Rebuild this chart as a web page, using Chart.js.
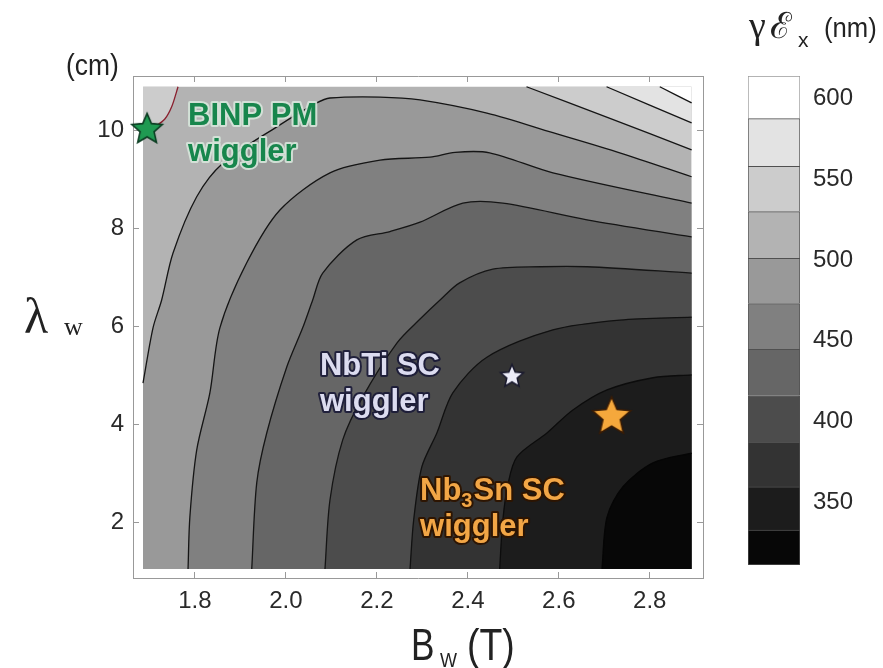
<!DOCTYPE html>
<html>
<head>
<meta charset="utf-8">
<title>Wiggler emittance map</title>
<script src="https://cdn.jsdelivr.net/npm/chart.js@4.4.1/dist/chart.umd.min.js"></script>
<style>
  html, body { margin: 0; padding: 0; background: #fff; }
  #wrap { position: relative; width: 883px; height: 668px; overflow: hidden; }
  #plot { position: absolute; left: 0; top: 0; }
  #bar { position: absolute; left: 700px; top: 0; }
</style>
</head>
<body>
<div id="wrap">
  <canvas id="plot" width="883" height="668"></canvas>
  <canvas id="bar" width="183" height="668"></canvas>
</div>
<script>
// axis ranges (frame) and the data region inside it
const xAxisRange = [1.664, 2.917];
const yAxisRange = [0.855, 11.12];
const plotX = [1.686, 2.892];
const plotY = [1.04, 10.9];
const xTicks = [1.8, 2.0, 2.2, 2.4, 2.6, 2.8];
const yTicks = [2, 4, 6, 8, 10];

// colour bar: band edges in nm and labels
const levelEdges = [311, 332.7, 359.4, 387, 416, 444.6, 473, 501, 530, 558, 587.6, 614];
const cbTicks = [350, 400, 450, 500, 550, 600];
const bandColors = ['#070707', '#1c1c1c', '#333333', '#4c4c4c', '#666666', '#808080',
                    '#999999', '#b3b3b3', '#cccccc', '#e3e3e3', '#ffffff'];

// contour lines, [B_w (T), lambda_w (cm)]
const contourR = [[1.686, 9.93], [1.712, 10.08], [1.734, 10.24], [1.749, 10.49], [1.763, 10.9]];
const contourTopA = [[2.529, 10.9], [2.711, 10.26], [2.892, 9.61]];
const contourTopB = [[2.705, 10.9], [2.892, 10.16]];
const contourTopC = [[2.822, 10.9], [2.892, 10.57]];
const contourL1 = [[1.686, 4.84], [1.708, 5.97], [1.727, 6.54], [1.752, 7.50], [1.804, 8.65],
                   [1.862, 9.34], [1.980, 10.08], [2.068, 10.57], [2.097, 10.67], [2.207, 10.69],
                   [2.295, 10.63], [2.442, 10.36], [2.587, 9.96], [2.734, 9.55], [2.892, 9.06]];
const contourL2 = [[1.785, 1.04], [1.789, 2.10], [1.804, 3.47], [1.833, 4.64], [1.855, 5.97],
                   [1.914, 7.30], [1.987, 8.38], [2.097, 9.14], [2.207, 9.40], [2.317, 9.46],
                   [2.372, 9.56], [2.448, 9.55], [2.587, 9.14], [2.892, 8.52]];
const contourL3 = [[1.925, 1.04], [1.936, 2.80], [1.958, 3.82], [2.002, 5.17], [2.037, 5.97],
                   [2.059, 6.54], [2.081, 7.09], [2.156, 7.77], [2.229, 7.94], [2.295, 8.13],
                   [2.389, 8.52], [2.477, 8.52], [2.662, 8.18], [2.892, 7.83]];
const contourL4 = [[2.086, 1.04], [2.097, 2.45], [2.125, 3.68], [2.169, 4.56], [2.244, 5.66],
                   [2.295, 6.15], [2.339, 6.54], [2.382, 6.89], [2.455, 7.17], [2.560, 7.22],
                   [2.662, 7.22], [2.892, 7.09]];
const contourL5 = [[2.273, 1.04], [2.281, 2.04], [2.299, 3.13], [2.332, 3.82], [2.367, 4.64],
                   [2.442, 5.37], [2.587, 5.93], [2.734, 6.13], [2.892, 6.19]];
const contourL6 = [[2.470, 1.04], [2.477, 2.04], [2.488, 2.76], [2.508, 3.33], [2.574, 3.82],
                   [2.631, 4.29], [2.706, 4.70], [2.807, 4.95], [2.892, 5.01]];
const contourL7 = [[2.695, 1.04], [2.706, 2.10], [2.741, 2.72], [2.807, 3.21], [2.892, 3.41]];

// wiggler working points
const binpStar = [1.695, 10.06];
const nbtiStar = [2.497, 5.00];
const nb3snStar = [2.716, 4.19];

const SANS = "'Liberation Sans', Arial, sans-serif";
const SERIF = "'Liberation Serif', 'DejaVu Serif', serif";
Chart.defaults.font.family = SANS;

function toPoints(arr) {
    return arr.map(([x, y]) => ({ x, y }));
}

// filled star used as point image
function makeStar(r, fill, stroke) {
    const c = document.createElement('canvas');
    const s = Math.ceil(r * 2 + 6);
    c.width = s; c.height = s;
    const ctx = c.getContext('2d');
    ctx.translate(s / 2, s / 2 + r * 0.1);
    ctx.beginPath();
    for (let i = 0; i < 10; i++) {
        const rad = i % 2 === 0 ? r : r * 0.46;
        const a = -Math.PI / 2 + i * Math.PI / 5;
        ctx.lineTo(Math.cos(a) * rad, Math.sin(a) * rad);
    }
    ctx.closePath();
    ctx.fillStyle = fill;
    ctx.fill();
    ctx.lineWidth = 1.6;
    ctx.strokeStyle = stroke;
    ctx.stroke();
    return c;
}

// paint order: lightest background first, then each contour region
const layers = [
    { pts: [[plotX[0], plotY[1]], [plotX[1], plotY[1]]], to: plotY[0], band: 7, edge: null },
    { pts: contourR, to: plotY[1], band: 8, edge: '#8a1f2e' },
    { pts: contourTopA, to: plotY[1], band: 8, edge: '#151515' },
    { pts: contourTopB, to: plotY[1], band: 9, edge: '#151515' },
    { pts: contourTopC, to: plotY[1], band: 10, edge: '#151515' },
    { pts: contourL1, to: plotY[0], band: 6, edge: '#151515' },
    { pts: contourL2, to: plotY[0], band: 5, edge: '#151515' },
    { pts: contourL3, to: plotY[0], band: 4, edge: '#151515' },
    { pts: contourL4, to: plotY[0], band: 3, edge: '#151515' },
    { pts: contourL5, to: plotY[0], band: 2, edge: '#111111' },
    { pts: contourL6, to: plotY[0], band: 1, edge: '#0c0c0c' },
    { pts: contourL7, to: plotY[0], band: 0, edge: '#050505' }
];

const datasets = layers.map((l, i) => ({
    data: toPoints(l.pts),
    showLine: true,
    pointRadius: 0,
    borderColor: l.edge || 'rgba(0,0,0,0)',
    borderWidth: l.edge ? 1.3 : 0,
    backgroundColor: bandColors[l.band],
    fill: { value: l.to },
    tension: 0.3,
    order: 100 - i
}));

const stars = [
    { p: binpStar, img: makeStar(16, '#1f9a52', '#0b3d22') },
    { p: nbtiStar, img: makeStar(12, '#ececf8', '#1a1a2e') },
    { p: nb3snStar, img: makeStar(20, '#f5a83c', '#3a1c05') }
];
stars.forEach(s => datasets.push({
    data: toPoints([s.p]),
    pointStyle: s.img,
    pointRadius: 10,
    clip: false,
    order: 0
}));

// text drawn next to the stars
const notes = [
    { at: [1.785, 10.12], color: '#17864c', halo: 'rgba(214,230,218,0.9)',
      lines: [[{ t: 'BINP PM' }], [{ t: 'wiggler' }]] },
    { at: [2.075, 5.0], color: '#dcdcf0', halo: 'rgba(25,25,55,0.9)',
      lines: [[{ t: 'NbTi SC' }], [{ t: 'wiggler' }]] },
    { at: [2.295, 2.45], color: '#f2a646', halo: 'rgba(45,20,0,0.95)',
      lines: [[{ t: 'Nb' }, { t: '3', sub: true }, { t: 'Sn SC' }], [{ t: 'wiggler' }]] }
];

function drawText(ctx, text, x, y, font, color, sx) {
    ctx.save();
    ctx.translate(x, y);
    ctx.scale(sx || 1, 1);
    ctx.font = font;
    ctx.fillStyle = color;
    ctx.textBaseline = 'alphabetic';
    ctx.textAlign = 'left';
    ctx.fillText(text, 0, 0);
    ctx.restore();
}

const labelPlugin = {
    id: 'labels',
    afterDatasetsDraw(chart) {
        const ctx = chart.ctx;
        const xs = chart.scales.x, ys = chart.scales.y;
        ctx.save();
        ctx.textBaseline = 'alphabetic';
        notes.forEach(n => {
            const x0 = xs.getPixelForValue(n.at[0]);
            let y = ys.getPixelForValue(n.at[1]);
            n.lines.forEach(line => {
                let x = x0;
                line.forEach(seg => {
                    ctx.font = seg.sub ? `bold 20px ${SANS}` : `bold 31px ${SANS}`;
                    const yy = seg.sub ? y + 7 : y;
                    ctx.lineJoin = 'round';
                    ctx.lineWidth = 4;
                    ctx.strokeStyle = n.halo;
                    ctx.strokeText(seg.t, x, yy);
                    ctx.fillStyle = n.color;
                    ctx.fillText(seg.t, x, yy);
                    x += ctx.measureText(seg.t).width + (seg.sub ? 1 : 0);
                });
                y += 36;
            });
        });
        ctx.restore();
    },
    afterDraw(chart) {
        const ctx = chart.ctx;
        drawText(ctx, '(cm)', 66, 75, `30px ${SANS}`, '#222', 0.88);
        drawText(ctx, 'λ', 24, 333, `50px ${SERIF}`, '#222');
        drawText(ctx, 'w', 64, 335, `26px ${SERIF}`, '#222');
        drawText(ctx, 'B', 411, 660, `44px ${SANS}`, '#222', 0.8);
        drawText(ctx, 'W', 440, 667, `20px ${SANS}`, '#222', 0.9);
        drawText(ctx, '(T)', 467, 660, `44px ${SANS}`, '#222', 0.85);
    }
};

const frameGrid = { drawOnChartArea: false, drawTicks: true, tickLength: -6, color: '#999' };
const frameBorder = { display: true, color: '#999', width: 1 };
const tickFont = { size: 24, family: SANS };

new Chart(document.getElementById('plot'), {
    type: 'scatter',
    data: { datasets },
    options: {
        responsive: false,
        animation: false,
        events: [],
        layout: { padding: { left: 0, top: 76, right: 180, bottom: 0 } },
        plugins: { legend: { display: false }, tooltip: { enabled: false } },
        scales: {
            x: {
                type: 'linear', position: 'bottom',
                min: xAxisRange[0], max: xAxisRange[1],
                afterBuildTicks: s => { s.ticks = xTicks.map(v => ({ value: v })); },
                afterFit: s => { s.height = 90; },
                ticks: { callback: v => v.toFixed(1), font: tickFont, color: '#2a2a2a', padding: 15, maxRotation: 0, autoSkip: false },
                grid: frameGrid, border: frameBorder
            },
            y: {
                type: 'linear', position: 'left',
                min: yAxisRange[0], max: yAxisRange[1],
                afterBuildTicks: s => { s.ticks = yTicks.map(v => ({ value: v })); },
                afterFit: s => { s.width = 133; },
                ticks: { callback: v => String(v), font: tickFont, color: '#2a2a2a', padding: 15, autoSkip: false },
                grid: frameGrid, border: frameBorder
            },
            x2: {
                type: 'linear', position: 'top',
                min: xAxisRange[0], max: xAxisRange[1],
                afterBuildTicks: s => { s.ticks = xTicks.map(v => ({ value: v })); },
                afterFit: s => { s.height = 0; },
                ticks: { display: false },
                grid: frameGrid, border: frameBorder
            },
            y2: {
                type: 'linear', position: 'right',
                min: yAxisRange[0], max: yAxisRange[1],
                afterBuildTicks: s => { s.ticks = yTicks.map(v => ({ value: v })); },
                afterFit: s => { s.width = 0; },
                ticks: { display: false },
                grid: frameGrid, border: frameBorder
            }
        }
    },
    plugins: [labelPlugin]
});

// colour bar as floating bars
const barTitle = {
    id: 'barTitle',
    afterDraw(chart) {
        const ctx = chart.ctx;
        drawText(ctx, 'γ', 49, 38, `38px ${SERIF}`, '#222');
        drawText(ctx, 'ℰ', 70, 38, `36px ${SERIF}`, '#222');
        drawText(ctx, 'x', 98, 47, `21px ${SANS}`, '#222');
        drawText(ctx, '(nm)', 124, 37, `27px ${SANS}`, '#222', 0.95);
    }
};

new Chart(document.getElementById('bar'), {
    type: 'bar',
    data: {
        labels: [''],
        datasets: bandColors.map((c, i) => ({
            data: [[levelEdges[i], levelEdges[i + 1]]],
            backgroundColor: c,
            borderColor: i === bandColors.length - 1 ? '#9a9a9a' : '#505050',
            borderWidth: { top: 1, bottom: i === 0 ? 1 : 0, left: 1, right: 1 },
            borderSkipped: false,
            grouped: false,
            barPercentage: 1,
            categoryPercentage: 1
        }))
    },
    options: {
        responsive: false,
        animation: false,
        events: [],
        layout: { padding: { left: 48, top: 76, right: 0, bottom: 103 } },
        plugins: { legend: { display: false }, tooltip: { enabled: false } },
        scales: {
            x: { display: false },
            y: {
                position: 'right',
                min: levelEdges[0], max: levelEdges[levelEdges.length - 1],
                afterBuildTicks: s => { s.ticks = cbTicks.map(v => ({ value: v })); },
                afterFit: s => { s.width = 83; },
                ticks: { font: tickFont, color: '#2a2a2a', padding: 13 },
                grid: { display: false, drawTicks: false },
                border: { display: false }
            }
        }
    },
    plugins: [barTitle]
});
</script>
</body>
</html>
